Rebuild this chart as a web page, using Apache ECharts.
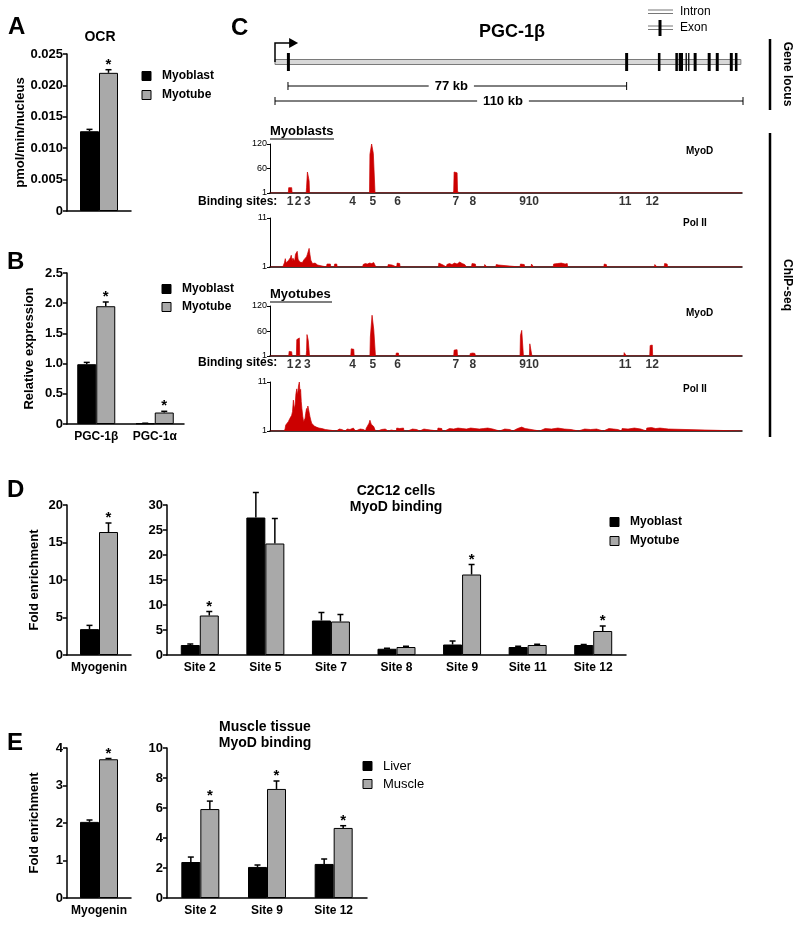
<!DOCTYPE html>
<html><head><meta charset="utf-8">
<script src="https://cdn.jsdelivr.net/npm/echarts@6/dist/echarts.min.js"></script>
<style>html,body{margin:0;padding:0;background:#fff}#c{width:800px;height:925px}</style>
</head><body><div id="c"></div><script>
const FF = 'Liberation Sans';
const GREY = '#a9a9a9';
const RED = '#cc0000';

// ---------- Panel A: OCR ----------
const ocrCats = [''];
const ocrMyoblast = [0.0127], ocrMyoblastErr = [0.0003];
const ocrMyotube = [0.0220], ocrMyotubeErr = [0.0005];
const ocrSig = [1];

// ---------- Panel B: relative expression ----------
const exprCats = ['PGC-1β', 'PGC-1α'];
const exprMyoblast = [0.99, 0.01], exprMyoblastErr = [0.03, 0.003];
const exprMyotube = [1.95, 0.19], exprMyotubeErr = [0.07, 0.02];
const exprSig = [1, 1];

// ---------- Panel D: C2C12 MyoD ChIP ----------
const dCtrlCats = ['Myogenin'];
const dCtrlMyoblast = [3.45], dCtrlMyoblastErr = [0.5];
const dCtrlMyotube = [16.4], dCtrlMyotubeErr = [1.2];
const dCtrlSig = [1];
const dSiteCats = ['Site 2', 'Site 5', 'Site 7', 'Site 8', 'Site 9', 'Site 11', 'Site 12'];
const dSiteMyoblast = [2.0, 27.5, 6.9, 1.25, 2.1, 1.6, 2.0];
const dSiteMyoblastErr = [0.2, 5.0, 1.6, 0.1, 0.7, 0.15, 0.1];
const dSiteMyotube = [7.9, 22.3, 6.7, 1.6, 16.1, 2.0, 4.8];
const dSiteMyotubeErr = [0.8, 5.0, 1.4, 0.15, 2.0, 0.15, 1.0];
const dSiteSig = [1, 0, 0, 0, 1, 0, 1];

// ---------- Panel E: muscle tissue MyoD ChIP ----------
const eCtrlCats = ['Myogenin'];
const eCtrlLiver = [2.03], eCtrlLiverErr = [0.05];
const eCtrlMuscle = [3.70], eCtrlMuscleErr = [0.02];
const eCtrlSig = [1];
const eSiteCats = ['Site 2', 'Site 9', 'Site 12'];
const eSiteLiver = [2.4, 2.07, 2.27], eSiteLiverErr = [0.33, 0.13, 0.33];
const eSiteMuscle = [5.93, 7.27, 4.67], eSiteMuscleErr = [0.53, 0.53, 0.15];
const eSiteSig = [1, 1, 1];

// ---------- Panel C: gene locus (kb) ----------
const geneStartKb = 0, geneEndKb = 109.5;
const exonStarts = [2.8, 82.3, 90.0, 94.1, 94.9, 96.5, 97.1, 98.4, 101.7, 103.6, 106.9, 108.1];
const exonEnds   = [3.5, 83.0, 90.6, 94.7, 95.9, 96.7, 97.3, 99.1, 102.4, 104.3, 107.6, 108.7];
const bracketStarts = [3.05, 0];
const bracketEnds = [82.65, 110];
const bracketLabels = ['77 kb', '110 kb'];
const siteLabels = ['1','2','3','4','5','6','7','8','9','10','11','12'];
const siteKb = [3.5, 5.4, 7.6, 18.2, 23.0, 28.8, 42.5, 46.5, 58.2, 60.5, 82.3, 88.7];
const trackTicksMyoD = [1, 60, 120];
const trackTicksPol = [1, 11];

// ChIP-seq signal profiles: [kb, signal]
const mbMyoD = [
[-1.2,1],[3.1,1],[3.2,14],[3.4,15],[3.9,14],[4.0,1],
[7.3,1],[7.4,15],[7.5,16],[7.6,52],[7.8,50],[7.9,36],[8.0,30],[8.1,1],
[22.2,1],[22.3,95],[22.6,96],[22.7,120],[23.0,120],[23.1,97],[23.4,95],[23.5,1],
[41.9,1],[42.0,6],[42.1,52],[42.8,50],[42.9,6],[43.1,1],
[109.8,1]];
const mbPol = [
[-1.2,1],[1.8,1],[2.0,1.4],[2.2,1.9],[2.4,2.7],[2.6,1.8],[2.8,2.2],[3.0,1.7],[3.2,2.4],[3.4,2.0],[3.6,2.9],[3.8,3.4],[4.0,2.3],[4.2,2.8],[4.4,3.0],[4.6,2.2],[4.8,3.6],[5.0,4.0],[5.2,4.2],[5.4,2.6],[5.6,2.3],[5.8,2.0],[6.0,1.8],[6.2,2.1],[6.4,1.9],[6.6,2.3],[6.8,2.5],[7.0,2.6],[7.2,2.9],[7.4,3.1],[7.6,3.6],[7.8,4.0],[8.0,4.8],[8.2,3.5],[8.4,2.4],[8.6,2.0],[8.8,1.7],[9.0,1.9],[9.2,1.6],[9.4,1.8],[9.6,1.5],[9.8,1.7],[10.0,1.4],[10.2,1],
[12.1,1],[12.2,1.6],[13.0,1.6],[13.1,1],[13.9,1],[14.0,1.6],[14.5,1.6],[14.6,1],
[20.6,1],[20.7,1.5],[21.2,1.7],[21.7,1.6],[22.2,1.8],[22.7,1.7],[23.2,1.9],[23.6,1.7],[23.7,1],
[26.5,1],[26.6,1.5],[27.5,1.4],[27.6,1],[28.6,1],[28.7,1.8],[29.3,1.7],[29.4,1],
[38.4,1],[38.5,1.8],[39.0,1.6],[39.5,1.4],[39.6,1],[40.3,1],[40.4,1.5],[41.0,1.7],[41.6,1.5],[42.2,1.8],[42.8,1.6],[43.4,2.0],[44.0,1.7],[44.6,1.5],[45.0,1],
[46.2,1],[46.3,1.7],[47.1,1.6],[47.2,1],[49.2,1],[49.3,1.5],[49.7,1.5],[49.8,1],[51.9,1],[52.0,1.5],[52.6,1.4],[52.7,1],
[57.6,1],[57.7,1.6],[58.6,1.5],[58.7,1],[60.2,1],[60.3,1.6],[60.7,1.5],[60.8,1],
[65.4,1],[65.5,1.6],[66.4,1.7],[67.3,1.8],[68.2,1.6],[68.7,1.7],[68.8,1],
[77.3,1],[77.4,1.6],[77.9,1.5],[78.0,1],
[89.2,1],[89.3,1.5],[89.7,1.5],[89.8,1],[91.5,1],[91.6,1.7],[92.2,1.6],[92.3,1],[109.8,1]];
const mtMyoD = [
[-1.2,1],[3.2,1],[3.3,12],[3.9,11],[4.0,1],
[5.0,1],[5.1,40],[5.3,43],[5.7,44],[5.8,1],
[7.3,1],[7.4,14],[7.5,52],[7.7,50],[7.8,38],[8.0,36],[8.1,1],
[17.8,1],[17.9,18],[18.2,19],[18.5,17],[18.6,1],
[22.3,1],[22.4,46],[22.7,47],[22.8,98],[23.1,96],[23.2,64],[23.5,62],[23.6,1],
[28.4,1],[28.5,8],[29.0,8],[29.1,1],
[42.0,1],[42.1,15],[42.8,16],[42.9,1],
[45.8,1],[45.9,7],[46.5,8],[47.0,7],[47.1,1],
[57.6,1],[57.7,50],[57.9,52],[58.0,62],[58.3,60],[58.4,1],
[59.8,1],[59.9,30],[60.3,29],[60.4,1],
[82.0,1],[82.1,9],[82.5,8],[82.6,1],
[88.1,1],[88.2,26],[88.7,27],[88.8,1],
[109.8,1]];
const mtPol = [
[-1.2,1],[2.2,1],[2.35,1.5],[2.5,2.2],[2.7,2.0],[2.9,2.6],[3.1,2.9],[3.3,2.5],[3.5,3.6],[3.7,3.3],[3.9,4.2],[4.1,5.0],[4.3,7.3],[4.5,5.5],[4.7,6.3],[4.9,8.6],[5.1,9.6],[5.3,8.3],[5.5,10.2],[5.7,11.0],[5.85,9.0],[6.0,9.5],[6.15,7.0],[6.3,5.6],[6.5,4.0],[6.7,2.9],[6.9,3.3],[7.05,3.6],[7.2,4.6],[7.4,5.6],[7.55,5.0],[7.7,6.1],[7.85,5.5],[8.0,5.3],[8.2,3.9],[8.4,3.2],[8.6,2.6],[8.8,2.8],[9.0,2.2],[9.2,2.0],[9.4,1.7],[9.7,1.8],[10.0,1.5],[10.3,1.6],[10.6,1.4],[11.0,1.5],[11.4,1.4],[11.8,1.3],[12.1,1.3],[12.2,1],
[14.4,1],[14.5,1.3],[15.1,1.4],[15.7,1.3],[15.8,1],[16.4,1],[16.5,1.3],[17.0,1.4],[17.6,1.3],[17.7,1],[17.9,1],[18.0,1.5],[18.4,1.6],[18.8,1.4],[18.9,1],[19.1,1],[19.2,1.3],[20.0,1.4],[20.8,1.3],[20.9,1],
[21.3,1],[21.4,1.5],[21.8,1.9],[22.1,2.6],[22.3,3.2],[22.6,2.4],[22.9,2.8],[23.2,1.9],[23.5,1.5],[23.6,1],
[24.2,1],[24.3,1.4],[25.0,1.3],[25.9,1.4],[26.0,1],[26.6,1],[26.7,1.2],[27.3,1.2],[27.4,1],[28.5,1],[28.6,1.6],[29.3,1.5],[30.2,1.6],[30.3,1],
[31.2,1],[31.3,1.3],[32.3,1.4],[33.3,1.3],[33.4,1],[34.0,1],[34.1,1.3],[35.0,1.4],[35.7,1.3],[35.8,1],[38.2,1],[38.3,1.6],[39.2,1.5],[39.3,1],
[39.9,1],[40.0,1.4],[41.0,1.5],[42.0,1.4],[43.0,1.6],[44.0,1.5],[45.0,1.4],[46.0,1.6],[47.0,1.5],[48.0,1.4],[49.0,1.5],[50.0,1.6],[51.2,1.4],[51.3,1],
[52.8,1],[52.9,1.3],[54.0,1.4],[55.2,1.3],[55.3,1],[55.9,1],[56.0,1.4],[57.0,1.5],[58.0,1.8],[58.8,1.5],[59.6,1.4],[59.7,1],
[62.2,1],[62.3,1.4],[63.5,1.5],[65.0,1.4],[66.5,1.6],[68.0,1.4],[69.6,1.3],[69.7,1],[71.3,1],[71.4,1.3],[72.8,1.4],[74.2,1.3],[75.6,1.4],[75.7,1],
[77.2,1],[77.3,1.4],[78.5,1.5],[79.6,1.4],[80.6,1.3],[80.7,1],[81.5,1],[81.6,1.5],[83.0,1.4],[84.5,1.6],[86.0,1.4],[86.1,1],
[87.3,1],[87.4,1.6],[88.5,1.7],[89.5,1.5],[90.5,1.6],[91.5,1.5],[92.5,1.4],[92.6,1],[109.8,1]];

// ================= build option =================
const option = {animation:false, backgroundColor:'#fff', grid:[], xAxis:[], yAxis:[], series:[], graphic:[]};
const BW = 19;

function errRender(params, api){
  const ci = api.value(0), v = api.value(1), e = api.value(2), side = api.value(3), s = api.value(4);
  const b = api.coord([ci, v]);
  const t = api.coord([ci, v + e]);
  const x = b[0] + (side ? 1 : -1) * BW / 2;
  const ch = [
    {type:'line', shape:{x1:x, y1:b[1], x2:x, y2:t[1]}, style:{stroke:'#000', lineWidth:1.5}},
    {type:'line', shape:{x1:x-3, y1:t[1], x2:x+3, y2:t[1]}, style:{stroke:'#000', lineWidth:1.5}}
  ];
  if (s) ch.push({type:'text', style:{text:'*', x:x, y:t[1]-5, fill:'#000', font:'bold 15px ' + FF, align:'center', verticalAlign:'middle'}});
  return {type:'group', children:ch};
}

function addBarPanel(p){
  const gi = option.grid.length;
  option.grid.push({left:p.left, top:p.top, width:p.width, height:p.height, containLabel:false, outerBoundsMode:'none'});
  option.xAxis.push({gridIndex:gi, type:'category', data:p.cats,
    axisLine:{lineStyle:{color:'#000', width:1.5}}, axisTick:{show:false},
    axisLabel:{color:'#000', fontFamily:FF, fontWeight:'bold', fontSize:12, margin:7, interval:0},
    splitLine:{show:false}});
  option.yAxis.push({gridIndex:gi, type:'value', min:p.min, max:p.max, interval:p.interval,
    axisLine:{show:true, onZero:false, lineStyle:{color:'#000', width:1.5}},
    axisTick:{show:true, length:4, lineStyle:{color:'#000', width:1.5}},
    axisLabel:{color:'#000', fontFamily:FF, fontWeight:'bold', fontSize:13, margin:4, formatter:p.fmt},
    splitLine:{show:false},
    name:p.yName || '', nameLocation:'middle', nameGap:p.nameGap || 30,
    nameTextStyle:{color:'#000', fontFamily:FF, fontWeight:'bold', fontSize:13}});
  const common = {type:'bar', xAxisIndex:gi, yAxisIndex:gi, barWidth:BW, barGap:'0%', animation:false, silent:true};
  option.series.push(Object.assign({}, common, {data:p.a, itemStyle:{color:'#000', borderColor:'#000', borderWidth:1}}));
  option.series.push(Object.assign({}, common, {data:p.b, itemStyle:{color:GREY, borderColor:'#000', borderWidth:1}}));
  const rows = [];
  p.a.forEach((v, i) => rows.push([i, v, p.aErr[i], 0, 0]));
  p.b.forEach((v, i) => rows.push([i, v, p.bErr[i], 1, p.sig[i]]));
  option.series.push({type:'custom', xAxisIndex:gi, yAxisIndex:gi, data:rows, renderItem:errRender, z:5, clip:false, silent:true});
}

const f0 = d => v => v === 0 ? '0' : v.toFixed(d);

addBarPanel({cats:ocrCats, a:ocrMyoblast, aErr:ocrMyoblastErr, b:ocrMyotube, bErr:ocrMyotubeErr, sig:ocrSig,
  min:0, max:0.025, interval:0.005, fmt:f0(3), left:67, top:54, width:64, height:157, yName:'pmol/min/nucleus', nameGap:37});
addBarPanel({cats:exprCats, a:exprMyoblast, aErr:exprMyoblastErr, b:exprMyotube, bErr:exprMyotubeErr, sig:exprSig,
  min:0, max:2.5, interval:0.5, fmt:f0(1), left:67, top:273, width:117, height:151, yName:'Relative expression', nameGap:31});
addBarPanel({cats:dCtrlCats, a:dCtrlMyoblast, aErr:dCtrlMyoblastErr, b:dCtrlMyotube, bErr:dCtrlMyotubeErr, sig:dCtrlSig,
  min:0, max:20, interval:5, fmt:v => String(v), left:67, top:505, width:64, height:150, yName:'Fold enrichment', nameGap:26});
addBarPanel({cats:dSiteCats, a:dSiteMyoblast, aErr:dSiteMyoblastErr, b:dSiteMyotube, bErr:dSiteMyotubeErr, sig:dSiteSig,
  min:0, max:30, interval:5, fmt:v => String(v), left:167, top:505, width:459, height:150});
addBarPanel({cats:eCtrlCats, a:eCtrlLiver, aErr:eCtrlLiverErr, b:eCtrlMuscle, bErr:eCtrlMuscleErr, sig:eCtrlSig,
  min:0, max:4, interval:1, fmt:v => String(v), left:67, top:748, width:64, height:150, yName:'Fold enrichment', nameGap:26});
addBarPanel({cats:eSiteCats, a:eSiteLiver, aErr:eSiteLiverErr, b:eSiteMuscle, bErr:eSiteMuscleErr, sig:eSiteSig,
  min:0, max:10, interval:2, fmt:v => String(v), left:167, top:748, width:200, height:150});

// ---------- ChIP-seq tracks ----------
const TRACK_MIN = -1.2, TRACK_MAX = 109.8;
function addTrack(t){
  const gi = option.grid.length;
  option.grid.push({left:270, top:t.top, width:472, height:t.height, containLabel:false, outerBoundsMode:'none'});
  option.xAxis.push({gridIndex:gi, type:'value', min:TRACK_MIN, max:TRACK_MAX,
    axisLine:{onZero:false, lineStyle:{color:'#000', width:1.5}}, axisTick:{show:false}, axisLabel:{show:false}, splitLine:{show:false}});
  option.yAxis.push({gridIndex:gi, type:'value', min:1, max:t.max,
    axisLine:{show:true, onZero:false, lineStyle:{color:'#000', width:1}},
    axisTick:{show:true, length:3, customValues:t.ticks, lineStyle:{color:'#000'}},
    axisLabel:{customValues:t.ticks, color:'#000', fontFamily:FF, fontSize:9, margin:3},
    splitLine:{show:false}});
  option.series.push({type:'line', xAxisIndex:gi, yAxisIndex:gi, data:t.data, showSymbol:false, symbol:'none',
    lineStyle:{color:RED, width:0.7}, areaStyle:{color:RED, opacity:1, origin:'start'}, animation:false, silent:true});
  if (t.sites) {
    option.series.push({type:'scatter', xAxisIndex:gi, yAxisIndex:gi, silent:true,
      data:siteKb.map((k, i) => [k, 1, siteLabels[i]]), symbolSize:1, itemStyle:{color:'rgba(0,0,0,0)'},
      label:{show:true, position:'bottom', distance:2, formatter:pp => pp.data[2], color:'#000', fontFamily:FF, fontWeight:'bold', fontSize:12}});
  }
}
addTrack({top:144, height:49, max:120, ticks:trackTicksMyoD, data:mbMyoD, sites:true});
addTrack({top:218, height:49, max:11, ticks:trackTicksPol, data:mbPol});
addTrack({top:306, height:50, max:120, ticks:trackTicksMyoD, data:mtMyoD, sites:true});
addTrack({top:382, height:49, max:11, ticks:trackTicksPol, data:mtPol});

// ---------- gene locus ----------
const gg = option.grid.length;
option.grid.push({left:275, top:40, width:468, height:80, containLabel:false, outerBoundsMode:'none'});
option.xAxis.push({gridIndex:gg, type:'value', min:0, max:110, show:false});
option.yAxis.push({gridIndex:gg, type:'value', min:0, max:1, show:false});
const geneY = params => params.coordSys.y + 22;
option.series.push({type:'custom', xAxisIndex:gg, yAxisIndex:gg, clip:false, silent:true, data:[[geneStartKb, geneEndKb]],
  renderItem:(params, api) => {
    const x0 = api.coord([api.value(0), 0])[0], x1 = api.coord([api.value(1), 0])[0], y = geneY(params);
    return {type:'rect', shape:{x:x0, y:y-2.5, width:x1-x0, height:5}, style:{fill:'#d8d8d8', stroke:'#7a7a7a', lineWidth:1}};
  }});
option.series.push({type:'custom', xAxisIndex:gg, yAxisIndex:gg, clip:false, silent:true, z:4,
  data:exonStarts.map((s, i) => [s, exonEnds[i]]),
  renderItem:(params, api) => {
    const x0 = api.coord([api.value(0), 0])[0], x1 = api.coord([api.value(1), 0])[0], y = geneY(params);
    return {type:'rect', shape:{x:x0, y:y-9, width:Math.max(x1-x0, 1.3), height:18}, style:{fill:'#000'}};
  }});
option.series.push({type:'custom', xAxisIndex:gg, yAxisIndex:gg, clip:false, silent:true, z:4, data:[[geneStartKb, 5.2]],
  renderItem:(params, api) => {
    const x0 = api.coord([api.value(0), 0])[0], x1 = api.coord([api.value(1), 0])[0], y = geneY(params);
    const ya = y - 19;
    return {type:'group', children:[
      {type:'polyline', shape:{points:[[x0, y], [x0, ya], [x1-7, ya]]}, style:{stroke:'#000', lineWidth:1.5, fill:null}},
      {type:'polygon', shape:{points:[[x1-8, ya-5], [x1+1, ya], [x1-8, ya+5]]}, style:{fill:'#000'}}
    ]};
  }});
option.series.push({type:'custom', xAxisIndex:gg, yAxisIndex:gg, clip:false, silent:true, z:4,
  data:bracketStarts.map((s, i) => [s, bracketEnds[i], i]),
  renderItem:(params, api) => {
    const x0 = api.coord([api.value(0), 0])[0], x1 = api.coord([api.value(1), 0])[0];
    const idx = api.value(2);
    const y = params.coordSys.y + 46 + idx * 15;
    return {type:'group', children:[
      {type:'line', shape:{x1:x0, y1:y, x2:x1, y2:y}, style:{stroke:'#000', lineWidth:1}},
      {type:'line', shape:{x1:x0, y1:y-4, x2:x0, y2:y+4}, style:{stroke:'#000', lineWidth:1}},
      {type:'line', shape:{x1:x1, y1:y-4, x2:x1, y2:y+4}, style:{stroke:'#000', lineWidth:1}},
      {type:'text', z2:10, style:{text:bracketLabels[idx], x:(x0+x1)/2 - 6, y:y, align:'center', verticalAlign:'middle',
        font:'bold 13px ' + FF, fill:'#000', backgroundColor:'#fff', padding:[0, 6]}}
    ]};
  }});

// ---------- decorations (text, legends) ----------
const G = option.graphic;
function txt(x, y, text, font, align, extra){
  G.push(Object.assign({type:'text', x:x, y:y, silent:true, style:{text:text, x:0, y:0, font:font, fill:'#000', align:align || 'left', verticalAlign:'middle'}}, extra || {}));
}
function sq(x, y, fill){
  G.push({type:'rect', silent:true, shape:{x:x, y:y-4.5, width:9, height:9}, style:{fill:fill, stroke:'#000', lineWidth:1}});
}
function legend(x, y1, y2, t1, t2, font){
  sq(x, y1, '#000'); sq(x, y2, GREY);
  txt(x + 20, y1, t1, font); txt(x + 20, y2, t2, font);
}
const BIG = 'bold 24px ' + FF, TITLE = 'bold 14px ' + FF, LEG = 'bold 12px ' + FF;
txt(8, 27, 'A', BIG); txt(7, 262, 'B', BIG); txt(231, 28, 'C', BIG); txt(7, 490, 'D', BIG); txt(7, 743, 'E', BIG);
txt(100, 37, 'OCR', TITLE, 'center');
legend(142, 76, 95, 'Myoblast', 'Myotube', LEG);
legend(162, 289, 307, 'Myoblast', 'Myotube', LEG);
legend(610, 522, 541, 'Myoblast', 'Myotube', LEG);
legend(363, 766, 784, 'Liver', 'Muscle', '13px ' + FF);
txt(396, 491, 'C2C12 cells', TITLE, 'center'); txt(396, 507, 'MyoD binding', TITLE, 'center');
txt(265, 727, 'Muscle tissue', TITLE, 'center'); txt(265, 743, 'MyoD binding', TITLE, 'center');
txt(512, 32, 'PGC-1β', 'bold 18px ' + FF, 'center');
// intron / exon key
G.push({type:'line', silent:true, shape:{x1:648, y1:10, x2:673, y2:10}, style:{stroke:'#777', lineWidth:1}});
G.push({type:'line', silent:true, shape:{x1:648, y1:13.5, x2:673, y2:13.5}, style:{stroke:'#777', lineWidth:1}});
G.push({type:'line', silent:true, shape:{x1:648, y1:26, x2:673, y2:26}, style:{stroke:'#777', lineWidth:1}});
G.push({type:'line', silent:true, shape:{x1:648, y1:29.5, x2:673, y2:29.5}, style:{stroke:'#777', lineWidth:1}});
G.push({type:'rect', silent:true, shape:{x:658.5, y:20, width:3, height:16}, style:{fill:'#000'}});
txt(680, 12, 'Intron', '12px ' + FF); txt(680, 28, 'Exon', '12px ' + FF);
// track labels
txt(270, 131, 'Myoblasts', 'bold 13px ' + FF);
G.push({type:'line', silent:true, shape:{x1:270, y1:139, x2:334, y2:139}, style:{stroke:'#000', lineWidth:1.2}});
txt(270, 294, 'Myotubes', 'bold 13px ' + FF);
G.push({type:'line', silent:true, shape:{x1:270, y1:302, x2:332, y2:302}, style:{stroke:'#000', lineWidth:1.2}});
txt(198, 202, 'Binding sites:', 'bold 12px ' + FF);
txt(198, 363, 'Binding sites:', 'bold 12px ' + FF);
txt(686, 151, 'MyoD', 'bold 10px ' + FF); txt(683, 223, 'Pol II', 'bold 10px ' + FF);
txt(686, 313, 'MyoD', 'bold 10px ' + FF); txt(683, 389, 'Pol II', 'bold 10px ' + FF);
// right side brackets
G.push({type:'line', silent:true, shape:{x1:770, y1:39, x2:770, y2:110}, style:{stroke:'#000', lineWidth:2.5}});
G.push({type:'line', silent:true, shape:{x1:770, y1:133, x2:770, y2:437}, style:{stroke:'#000', lineWidth:2.5}});
txt(787, 74, 'Gene locus', 'bold 12px ' + FF, 'center', {rotation:-Math.PI/2});
txt(787, 285, 'ChIP-seq', 'bold 12px ' + FF, 'center', {rotation:-Math.PI/2});

const chart = echarts.init(document.getElementById('c'), null, {renderer:'canvas'});
chart.setOption(option);
</script></body></html>
